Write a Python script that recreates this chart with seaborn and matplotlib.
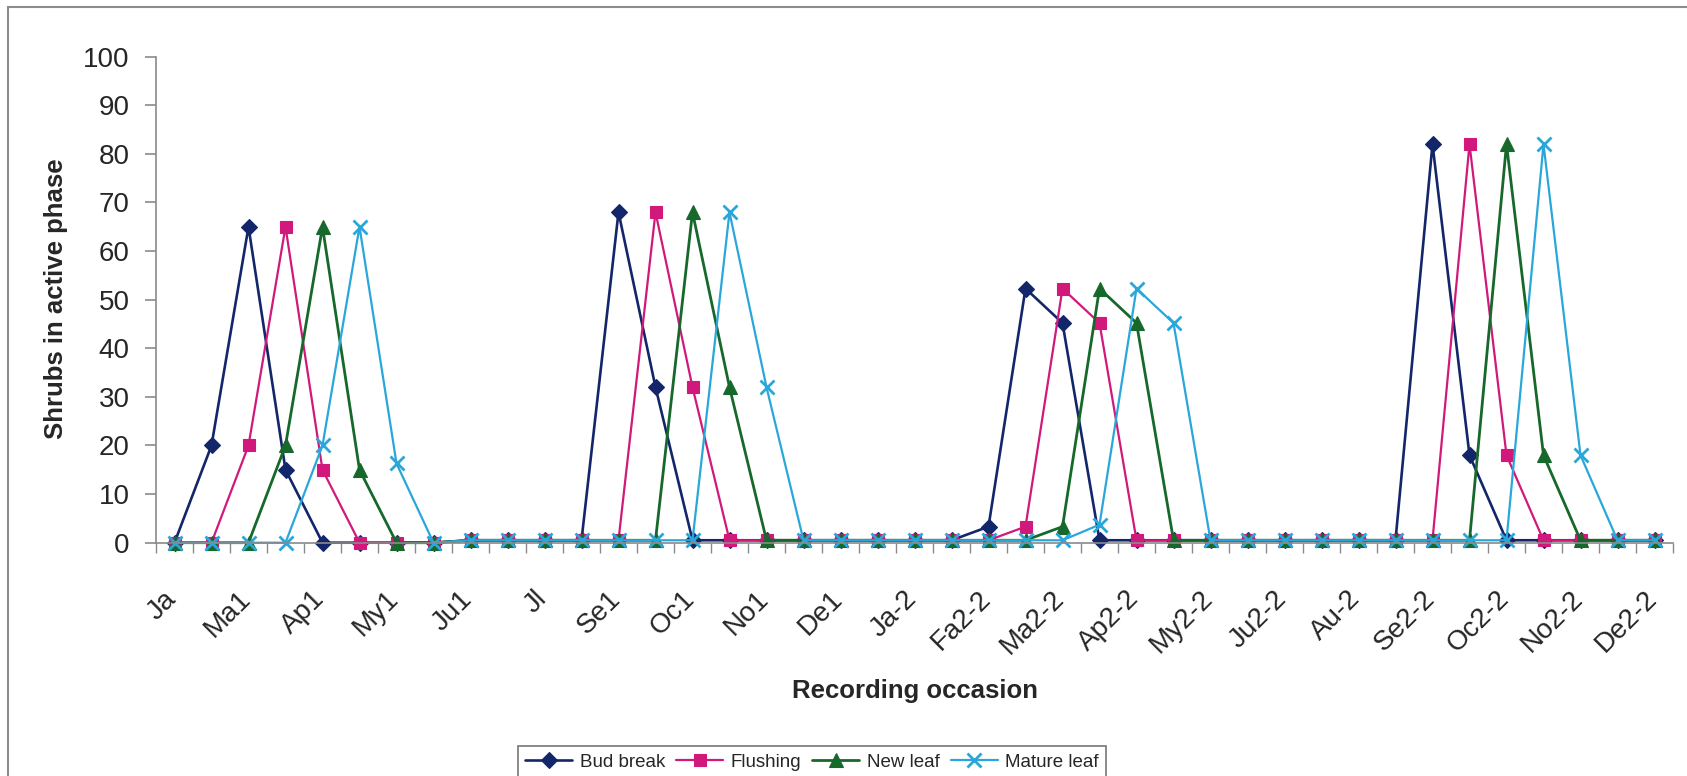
import matplotlib
matplotlib.use("Agg")
import matplotlib.pyplot as plt
import matplotlib.patches as mpatches
import matplotlib.transforms as mtransforms
from matplotlib.lines import Line2D
import seaborn as sns
import pandas as pd

# Recording occasions (41 fortnightly visits); every second one is labelled
occasion_labels = ["Ja", "Ma1", "Ap1", "My1", "Ju1", "Jl", "Se1", "Oc1", "No1", "De1",
                   "Ja-2", "Fa2-2", "Ma2-2", "Ap2-2", "My2-2", "Ju2-2", "Au-2", "Se2-2",
                   "Oc2-2", "No2-2", "De2-2"]
n_occasions = 41

# Shrubs in active phase (%) per occasion
bud_break = [0, 20, 65, 15, 0, 0, 0, 0, 0.5, 0.5, 0.5, 0.5, 68, 32, 0.5, 0.5, 0.5, 0.5,
             0.5, 0.5, 0.5, 0.5, 3.3, 52.3, 45.2, 0.5, 0.5, 0.5, 0.5, 0.5, 0.5, 0.5,
             0.5, 0.5, 82, 18, 0.5, 0.5, 0.5, 0.5, 0.5]
flushing = [0, 0, 20, 65, 15, 0, 0, 0, 0.5, 0.5, 0.5, 0.5, 0.5, 68, 32, 0.5, 0.5, 0.5,
            0.5, 0.5, 0.5, 0.5, 0.5, 3.3, 52.3, 45.2, 0.5, 0.5, 0.5, 0.5, 0.5, 0.5,
            0.5, 0.5, 0.5, 82, 18, 0.5, 0.5, 0.5, 0.5]
new_leaf = [0, 0, 0, 20, 65, 15, 0, 0, 0.5, 0.5, 0.5, 0.5, 0.5, 0.5, 68, 32, 0.5, 0.5,
            0.5, 0.5, 0.5, 0.5, 0.5, 0.5, 3.3, 52.3, 45.2, 0.5, 0.5, 0.5, 0.5, 0.5,
            0.5, 0.5, 0.5, 0.5, 82, 18, 0.5, 0.5, 0.5]
mature_leaf = [0, 0, 0, 0, 20, 65, 16.3, 0, 0.5, 0.5, 0.5, 0.5, 0.5, 0.5, 0.5, 68, 32,
               0.5, 0.5, 0.5, 0.5, 0.5, 0.5, 0.5, 0.5, 3.7, 52.3, 45.2, 0.5, 0.5, 0.5,
               0.5, 0.5, 0.5, 0.5, 0.5, 0.5, 82, 18, 0.5, 0.5]

series_names = ["Bud break", "Flushing", "New leaf", "Mature leaf"]
series_values = [bud_break, flushing, new_leaf, mature_leaf]
colors = ["#13266a", "#d1187b", "#17682b", "#2aa7da"]
markers = ["D", "s", "^", "x"]
marker_sizes = [8.5, 8, 9.5, 9.5]
line_widths = [1.9, 1.6, 2.0, 1.6]

df = pd.DataFrame({
    "occasion": list(range(n_occasions)) * len(series_names),
    "value": sum(series_values, []),
    "series": [name for name in series_names for _ in range(n_occasions)],
})

sns.set_theme(style="white")
plt.rcParams["font.family"] = ["Liberation Sans", "DejaVu Sans"]

fig = plt.figure(figsize=(16.87, 7.76), dpi=100)
ax = fig.add_axes([156 / 1687, 233.3 / 776, 1517 / 1687, 486 / 776])

for name, color, mk, ms, lw in zip(series_names, colors, markers, marker_sizes, line_widths):
    sub = df[df["series"] == name]
    sns.lineplot(data=sub, x="occasion", y="value", ax=ax, color=color, marker=mk,
                 markersize=ms, linewidth=lw, markeredgecolor=color,
                 markeredgewidth=2.0 if mk == "x" else 0.8, clip_on=False, legend=False)

ax.set_xlim(-0.5, n_occasions - 0.5)
ax.set_ylim(0, 100)
ax.set_yticks(range(0, 101, 10))
ax.tick_params(axis="y", labelsize=20, length=8, width=1.2, color="#8a8a8a",
               direction="out", pad=11, left=True)

# category labels on every second occasion, tick marks between categories
ax.set_xticks(range(0, n_occasions, 2))
ax.set_xticklabels(occasion_labels, rotation=45, ha="right", va="top",
                   rotation_mode="anchor")
ax.set_xticks([i - 0.5 for i in range(n_occasions + 1)], minor=True)
ax.tick_params(axis="x", which="major", labelsize=20, length=0, pad=31)
ax.tick_params(axis="x", which="minor", length=7, width=1.0, color="#8a8a8a",
               direction="out", bottom=True)
shift = mtransforms.ScaledTranslation(-11 / 100, 0, fig.dpi_scale_trans)
for lbl in ax.get_xticklabels():
    lbl.set_transform(lbl.get_transform() + shift)

for side in ["top", "right"]:
    ax.spines[side].set_visible(False)
for side in ["left", "bottom"]:
    ax.spines[side].set_color("#8a8a8a")
    ax.spines[side].set_linewidth(1.2)

ax.set_xlabel("Recording occasion", fontsize=18.5, fontweight="bold")
ax.set_ylabel("Shrubs in active phase", fontsize=18.5, fontweight="bold")
ax.xaxis.set_label_coords(0.5, -0.28)
ax.yaxis.set_label_coords(-0.058, 0.503)

handles = [Line2D([0], [0], color=c, marker=m, markersize=ms, linewidth=lw,
                  markeredgecolor=c, markeredgewidth=2.0 if m == "x" else 0.8)
           for c, m, ms, lw in zip(colors, markers, marker_sizes, line_widths)]
leg = fig.legend(handles, series_names, loc="upper center", ncol=4,
                 bbox_to_anchor=(812 / 1687, 1 - 746 / 776), fontsize=13.5,
                 frameon=True, fancybox=False, handlelength=2.5, handletextpad=0.4,
                 columnspacing=0.6, borderpad=0.4, borderaxespad=0)
leg.get_frame().set_edgecolor("#555555")
leg.get_frame().set_linewidth(1.2)

# chart area border
fig.patches.append(mpatches.Rectangle((8 / 1687, -0.05), 1.2, 1.05 - 7 / 776,
                                      transform=fig.transFigure, fill=False,
                                      edgecolor="#8c8c8c", linewidth=1.5))

fig.savefig("out.png", dpi=100)
